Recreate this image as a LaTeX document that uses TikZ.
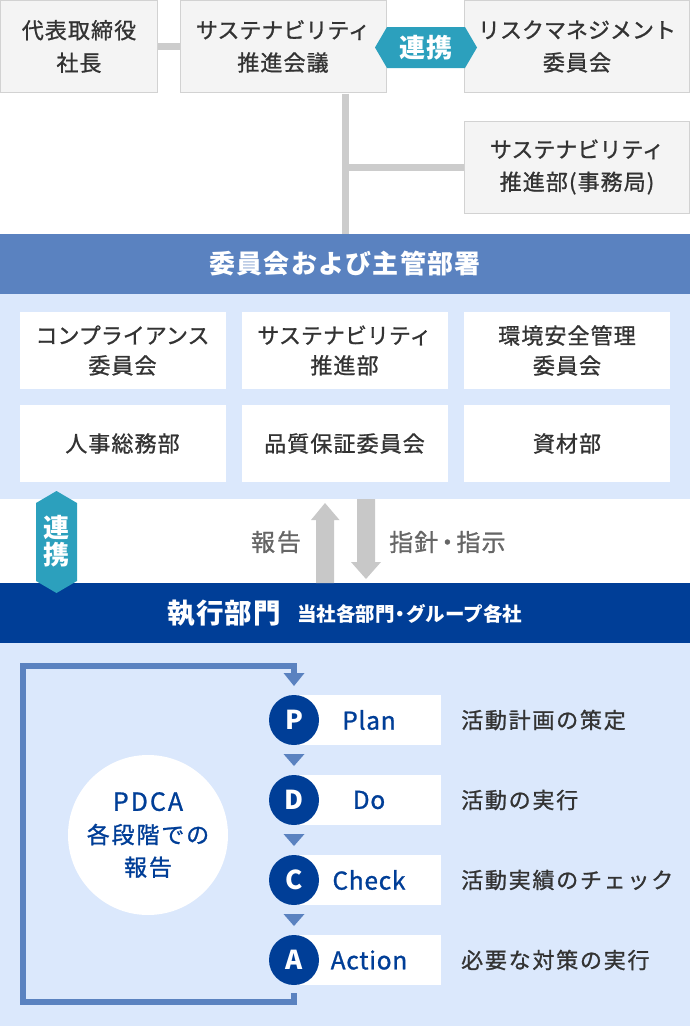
\documentclass[tikz,border=0pt]{standalone}
\usepackage{fontspec}
\setmainfont{Noto Sans CJK JP}
\newfontfamily\jpm[FakeBold=1, LetterSpace=5]{Noto Sans CJK JP}
\newfontfamily\jpk[FakeBold=1, LetterSpace=0]{Noto Sans CJK JP}
\newfontfamily\jpw[FakeBold=1, LetterSpace=8]{Noto Sans CJK JP}
\newfontfamily\jpb[LetterSpace=5]{Noto Sans CJK JP}
\newfontfamily\jpl[FakeBold=1, LetterSpace=3]{Noto Sans CJK JP}
\newcommand{\kana}[1]{{\jpk\fontsize{22}{32}\selectfont #1}}
\usetikzlibrary{positioning}
\definecolor{boxfill}{HTML}{F4F4F4}
\definecolor{boxline}{HTML}{D2D2D2}
\definecolor{conn}{HTML}{CCCCCC}
\definecolor{teal}{HTML}{2CA0BD}
\definecolor{midblue}{HTML}{5A82C0}
\definecolor{lightblue}{HTML}{DBE8FC}
\definecolor{navy}{HTML}{003E97}
\definecolor{txt}{HTML}{333333}
\definecolor{txtgray}{HTML}{666666}
\definecolor{arrgray}{HTML}{C8C8C8}
\tikzset{
  graybox/.style={draw=boxline, fill=boxfill, line width=1pt, inner sep=0pt, text=txt, align=center, font=\jpm\fontsize{22}{32.5}\selectfont},
  whitebox/.style={fill=white, inner sep=0pt, text=txt, align=center, font=\jpm\fontsize{22}{30}\selectfont, minimum width=206pt, minimum height=77pt},
  conline/.style={draw=conn, line width=7pt},
  pdcacirc/.style={circle, fill=navy, text=white, minimum size=50pt, inner sep=0pt, font=\bfseries\fontsize{26}{26}\selectfont},
  pdcarect/.style={fill=white, inner sep=0pt, minimum height=50pt},
  pdcalabel/.style={text=navy, font=\jpl\fontsize{24.5}{24.5}\selectfont, inner sep=0pt},
  pdcadesc/.style={text=txt, anchor=west, inner sep=0pt, font=\jpw\fontsize{22}{22}\selectfont},
  tri/.style={fill=midblue, draw=none}
}
\begin{document}
\begin{tikzpicture}[x=1pt, y=-1pt]
\useasboundingbox (0,0) rectangle (690,1026);
% backgrounds
\fill[lightblue] (0,294) rectangle (690,499);
\fill[lightblue] (0,643) rectangle (690,1026);
% top boxes
\node[graybox, minimum width=157pt, minimum height=92pt] (ceo) at (79,46.5) {代表取締役\\社長};
\node[graybox, minimum width=206pt, minimum height=92pt] (kaigi) at (283,46.5) {\kana{サステナビリティ}\\推進会議};
\node[graybox, minimum width=225pt, minimum height=92pt] (risk) at (577,46.5) {\kana{リスクマネジメント}\\委員会};
\node[graybox, minimum width=225pt, minimum height=92pt] (jimu) at (577,167) {\kana{サステナビリティ}\\推進部(事務局)};
\draw[conline] (ceo.east) -- (kaigi.west);
% blue bar
\node[fill=midblue, minimum width=690pt, minimum height=60pt, inner sep=0pt, text=white, font=\jpb\bfseries\fontsize{26}{26}\selectfont] (bar) at (345,264) {委員会および主管部署};
\coordinate (vtop) at (345,93.5);
\draw[conline] (vtop) -- (vtop |- bar.north);
\draw[conline] (vtop |- jimu.west) -- (jimu.west);
% hexagon 連携 (horizontal)
\fill[teal] (375,47.5) -- (387,27) -- (465,27) -- (477,47.5) -- (465,68) -- (387,68) -- cycle;
\node[text=white, font=\jpb\bfseries\fontsize{26}{26}\selectfont, inner sep=0pt] (renkei1) at (426,47.5) {連携};
% middle white boxes
\node[whitebox] (comp) at (122.5,350.5) {\kana{コンプライアンス}\\委員会};
\node[whitebox] (sus) at (344.5,350.5) {\kana{サステナビリティ}\\推進部};
\node[whitebox] (env) at (567,350.5) {環境安全管理\\委員会};
\node[whitebox] (hr) at (122.5,443.5) {人事総務部};
\node[whitebox] (qa) at (344.5,443.5) {品質保証委員会};
\node[whitebox] (mat) at (567,443.5) {資材部};
% navy bar
\node[fill=navy, minimum width=690pt, minimum height=60pt, inner sep=0pt] (exec) at (345,613) {};
\node[text=white, font=\jpb\bfseries\fontsize{27.5}{27.5}\selectfont, inner sep=0pt, anchor=west] (execT) at (167,613) {執行部門};
\node[text=white, font=\bfseries\fontsize{19.5}{19.5}\selectfont, inner sep=0pt, anchor=west] (execS) at (297,614) {当社各部門\kern-4pt・\kern-4pt グループ各社};
% vertical 連携 hexagon
\fill[teal] (56.5,491) -- (77,503) -- (77,581) -- (56.5,593) -- (36,581) -- (36,503) -- cycle;
\node[text=white, font=\bfseries\fontsize{26}{27}\selectfont, inner sep=0pt, align=center] (renkei2) at (56.5,541.5) {連\\携};
% arrows
\fill[arrgray] (316,583) -- (316,520) -- (311,520) -- (325,503) -- (339.5,520) -- (334,520) -- (334,583) -- cycle;
\fill[arrgray] (357,499) -- (357,562) -- (351,562) -- (366,579) -- (381,562) -- (375,562) -- (375,499) -- cycle;
\node[text=txtgray, font=\jpw\fontsize{24}{24}\selectfont, inner sep=0pt] (rep) at (276,542) {報告};
\node[text=txtgray, font=\jpm\fontsize{24}{24}\selectfont, inner sep=0pt, anchor=west] (dir) at (389,542) {指針\kern-3pt・\kern-3pt 指示};
% PDCA
\node[circle, fill=white, minimum size=160pt, inner sep=0pt, text=navy, align=center, font=\jpw\fontsize{23}{32.5}\selectfont] (pdca) at (148,835) {{\fontsize{25}{25}\selectfont PDCA}\\各段階での\\報告};
\foreach \n/\l/\w/\d/\y in {p/P/Plan/活動計画の策定/720, d/D/Do/活動の実行/800, c/C/Check/活動実績のチェック/880, a/A/Action/必要な対策の実行/960}{
  \node[pdcarect, minimum width=147pt] (\n r) at (367.5,\y) {};
  \node[pdcacirc] (\n) at (294,\y) {\l};
  \node[pdcalabel] (\n l) at (369,\y) {\w};
  \node[pdcadesc] (\n t) at (461,\y) {\d};
}
\foreach \y in {754,834,914}{
  \fill[tri] (283.5,\y) -- (304.5,\y) -- (294,\y+12) -- cycle;
}
% loop
\coordinate (lb) at (294,993);
\coordinate (lt) at (294,673);
\draw[midblue, line width=6pt] (lb) -- (294,1002) -- (23,1002) -- (23,666) -- (294,666) -- (lt);
\fill[tri] (283.5,673) -- (304.5,673) -- (294,686) -- cycle;
\end{tikzpicture}
\end{document}
